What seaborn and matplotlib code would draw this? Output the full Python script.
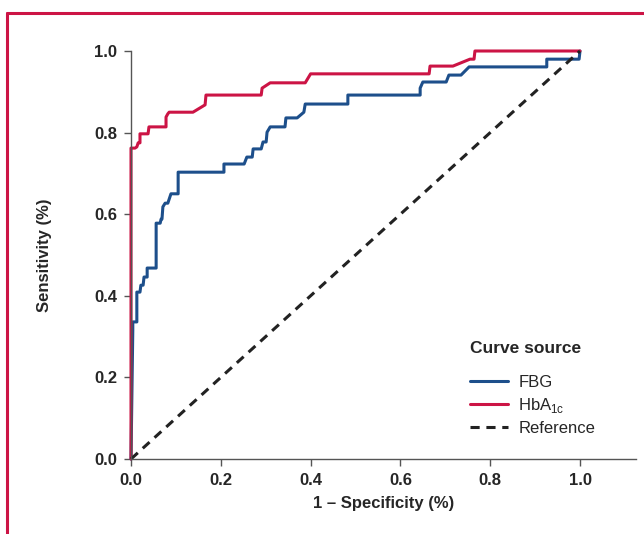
import numpy as np
import pandas as pd
import matplotlib
matplotlib.use('Agg')
import matplotlib.pyplot as plt
from matplotlib.lines import Line2D
import seaborn as sns

# ROC points (1 - specificity, sensitivity)
fbg_fpr = [0.0, 0.004, 0.004, 0.013, 0.013, 0.020, 0.022, 0.027, 0.029, 0.036, 0.036,
           0.056, 0.056, 0.065, 0.067, 0.069, 0.071, 0.076, 0.082, 0.089, 0.105, 0.105,
           0.207, 0.207, 0.252, 0.258, 0.270, 0.272, 0.290, 0.294, 0.301, 0.303, 0.310,
           0.343, 0.345, 0.370, 0.385, 0.388, 0.483, 0.483, 0.644, 0.644, 0.650, 0.702,
           0.708, 0.735, 0.753, 0.926, 0.926, 0.998, 1.0]
fbg_tpr = [0.0, 0.316, 0.336, 0.336, 0.409, 0.409, 0.426, 0.426, 0.446, 0.446, 0.468,
           0.468, 0.578, 0.578, 0.588, 0.588, 0.618, 0.627, 0.627, 0.650, 0.650, 0.703,
           0.703, 0.723, 0.723, 0.740, 0.740, 0.760, 0.760, 0.777, 0.777, 0.801, 0.814,
           0.814, 0.836, 0.836, 0.850, 0.870, 0.870, 0.892, 0.892, 0.909, 0.924, 0.924,
           0.941, 0.941, 0.961, 0.961, 0.980, 0.980, 1.0]

hba_fpr = [0.0, 0.0, 0.009, 0.013, 0.016, 0.020, 0.020, 0.038, 0.040, 0.078, 0.078,
           0.082, 0.085, 0.138, 0.165, 0.167, 0.290, 0.292, 0.310, 0.388, 0.400, 0.664,
           0.666, 0.717, 0.755, 0.764, 0.766, 1.0]
hba_tpr = [0.0, 0.762, 0.762, 0.765, 0.775, 0.775, 0.797, 0.797, 0.814, 0.814, 0.838,
           0.846, 0.850, 0.850, 0.868, 0.892, 0.892, 0.909, 0.922, 0.922, 0.944, 0.944,
           0.963, 0.963, 0.980, 0.980, 1.0, 1.0]

ref_fpr = [0.0, 1.0]
ref_tpr = [0.0, 1.0]

labels = ['FBG', 'HbA$_{\\mathregular{1c}}$', 'Reference']
colors = ['#1d4f8b', '#cc1445', '#222222']
ticks = [0.0, 0.2, 0.4, 0.6, 0.8, 1.0]
tick_labels = ['0.0', '0.2', '0.4', '0.6', '0.8', '1.0']

df = pd.concat([
    pd.DataFrame({'fpr': fbg_fpr, 'tpr': fbg_tpr, 'source': labels[0]}),
    pd.DataFrame({'fpr': hba_fpr, 'tpr': hba_tpr, 'source': labels[1]}),
    pd.DataFrame({'fpr': ref_fpr, 'tpr': ref_tpr, 'source': labels[2]}),
])

sns.set_style('ticks')
plt.rcParams['font.family'] = ['Liberation Sans', 'DejaVu Sans']
plt.rcParams['mathtext.fontset'] = 'custom'
plt.rcParams['mathtext.rm'] = 'Liberation Sans'

fig = plt.figure(figsize=(6.44, 5.34), dpi=100)
ax = fig.add_axes([131 / 644, 75 / 534, 505 / 644, 408 / 534])

sns.lineplot(data=df, x='fpr', y='tpr', hue='source', style='source',
             palette=dict(zip(labels, colors)),
             dashes={labels[0]: '', labels[1]: '', labels[2]: (3, 2.2)},
             sort=False, estimator=None, lw=2.2, ax=ax, clip_on=False)

ax.set_xlim(0, 505 / 449)
ax.set_ylim(0, 1.0)
ax.set_xticks(ticks)
ax.set_yticks(ticks)
ax.set_xticklabels(tick_labels, fontweight='bold', fontsize=12)
ax.set_yticklabels(tick_labels, fontweight='bold', fontsize=12)
ax.tick_params(length=5, width=1, color='#555555', pad=5)
for s in ['top', 'right']:
    ax.spines[s].set_visible(False)
for s in ['left', 'bottom']:
    ax.spines[s].set_color('#555555')
    ax.spines[s].set_linewidth(1)

ax.set_xlabel('1 – Specificity (%)', fontweight='bold', fontsize=12, labelpad=6)
ax.set_ylabel('Sensitivity (%)', fontweight='bold', fontsize=12, labelpad=30)

handles, labs = ax.get_legend_handles_labels()
leg = ax.legend(handles, labs, title='Curve source', loc='upper left',
                bbox_to_anchor=(0.671, 0.29), frameon=False, fontsize=12,
                handlelength=2.3, labelspacing=0.35, handletextpad=0.6,
                borderpad=0, borderaxespad=0,
                title_fontproperties={'weight': 'bold', 'size': 12.5})
leg._legend_box.align = 'left'
leg._legend_box.sep = 14

# red frame on the left and top
fig.add_artist(Line2D([7 / 644, 7 / 644], [0, 1 - 13 / 534], color='#cc1445', lw=2.2))
fig.add_artist(Line2D([7 / 644, 1], [1 - 13 / 534, 1 - 13 / 534], color='#cc1445', lw=2.2))

fig.savefig('out.png', dpi=100)
